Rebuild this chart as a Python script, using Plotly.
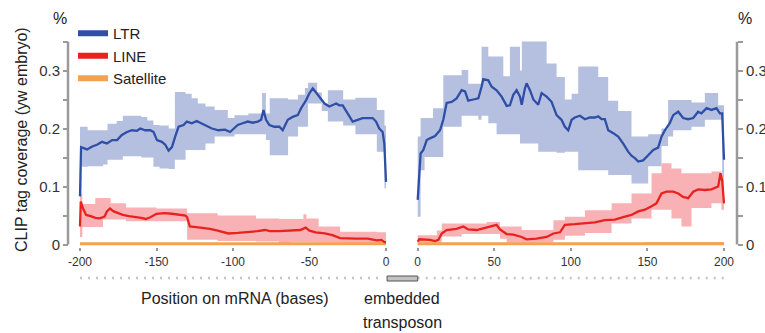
import plotly.graph_objects as go

# ---------------- data ----------------
# LTR mean, upstream side (-200..0)
ltr_left_pos = [-200, -199.3, -195.4, -192, -188.9, -185.6, -182.4, -179, -175.8, -172.6, -169.3, -166,
                -162.8, -160.6, -157.4, -154, -151.9, -149.7, -146.5, -144.3, -142.1, -139.9, -137.8,
                -135.6, -132.3, -130.2, -126.9, -123.7, -121.5, -118.2, -113.8, -109.5, -105.2, -101.9,
                -99.1, -96.9, -93.7, -90.4, -87.1, -83.8, -81.6, -80.1, -78.4, -76.2, -73.0, -69.7,
                -67.5, -64.2, -61.0, -57.7, -55.5, -52.2, -50.0, -47.9, -45.7, -43.5, -40.2, -37.0,
                -34.8, -32.6, -30.5, -28.3, -25.1, -21.8, -18.5, -15.3, -12.0, -8.7, -6.5, -4.4,
                -2.2, -1.1, 0]
ltr_left_val = [0.083, 0.168, 0.164, 0.169, 0.172, 0.177, 0.174, 0.180, 0.180, 0.189, 0.194, 0.197,
                0.196, 0.200, 0.197, 0.197, 0.194, 0.180, 0.177, 0.172, 0.162, 0.168, 0.186,
                0.203, 0.206, 0.212, 0.209, 0.213, 0.210, 0.206, 0.200, 0.197, 0.198, 0.194,
                0.200, 0.206, 0.209, 0.212, 0.210, 0.212, 0.215, 0.232, 0.215, 0.206, 0.203, 0.203,
                0.197, 0.215, 0.220, 0.223, 0.235, 0.249, 0.261, 0.269, 0.262, 0.255, 0.243, 0.238,
                0.241, 0.243, 0.240, 0.240, 0.226, 0.212, 0.215, 0.218, 0.218, 0.218, 0.212, 0.200,
                0.194, 0.174, 0.108]
ltr_left_band_pos = [-200, -199, -195, -185, -182, -176, -172, -160, -156, -152, -148, -142, -138,
                     -131, -127, -123, -118, -112, -103.4, -99, -90, -81, -78.5, -76, -64, -57.5,
                     -53, -51, -45, -42, -38, -28, -20, -6, -1, 0]
ltr_left_band_hi = [0.203, 0.203, 0.197, 0.197, 0.208, 0.213, 0.222, 0.220, 0.214, 0.206, 0.205, 0.200,
                    0.263, 0.260, 0.252, 0.243, 0.238, 0.232, 0.218, 0.223, 0.226, 0.261, 0.226,
                    0.252, 0.250, 0.258, 0.270, 0.279, 0.262, 0.243, 0.266, 0.250, 0.253, 0.232,
                    0.205, 0.205]
ltr_left_band_lo = [0.068, 0.134, 0.135, 0.138, 0.146, 0.146, 0.152, 0.150, 0.150, 0.134, 0.131, 0.130,
                    0.146, 0.163, 0.163, 0.163, 0.174, 0.186, 0.186, 0.190, 0.190, 0.190, 0.180,
                    0.154, 0.186, 0.203, 0.203, 0.243, 0.243, 0.230, 0.212, 0.205, 0.190, 0.160,
                    0.097, 0.097]

# LTR mean, downstream side (0..200)
ltr_right_pos = [0, 1.1, 1.9, 3.7, 5.9, 8.0, 11.3, 14.6, 16.7, 18.9, 22.2, 25.4, 28.7, 30.9, 33.0, 36.3,
                 39.6, 41.7, 42.8, 46.1, 48.3, 51.5, 54.8, 58.1, 60.2, 62.4, 64.6, 66.8, 67.9, 70.0,
                 71.1, 73.3, 75.5, 78.7, 80.9, 84.2, 87.4, 90.7, 93.9, 96.1, 98.3, 100.5, 102.6,
                 105.9, 109.2, 112.4, 115.7, 117.9, 120.0, 122.2, 124.4, 127.7, 130.9, 134.2, 137.4,
                 139.6, 141.8, 144.0, 147.2, 150.5, 153.8, 157.0, 159.2, 161.4, 164.6, 166.8, 170.1,
                 173.3, 176.6, 179.9, 183.1, 185.3, 188.6, 191.8, 195.1, 197.3, 198.8, 200]
ltr_right_val = [0.077, 0.128, 0.157, 0.163, 0.180, 0.183, 0.187, 0.197, 0.215, 0.244, 0.246, 0.252,
                 0.266, 0.264, 0.248, 0.250, 0.252, 0.272, 0.285, 0.283, 0.272, 0.266, 0.255, 0.239,
                 0.240, 0.258, 0.266, 0.255, 0.241, 0.269, 0.278, 0.266, 0.250, 0.241, 0.261, 0.255,
                 0.246, 0.223, 0.215, 0.203, 0.197, 0.215, 0.219, 0.222, 0.216, 0.219, 0.219, 0.221,
                 0.216, 0.216, 0.197, 0.192, 0.186, 0.174, 0.160, 0.153, 0.149, 0.143, 0.145, 0.154,
                 0.163, 0.167, 0.186, 0.197, 0.209, 0.223, 0.229, 0.218, 0.216, 0.218, 0.229, 0.226,
                 0.235, 0.232, 0.235, 0.226, 0.226, 0.146]
ltr_right_band_pos = [0, 1.9, 4.5, 10, 16.7, 28.7, 33, 39.6, 41.7, 46.1, 51.5, 55.9, 60.2, 66.8, 68,
                      73.3, 78.7, 84.2, 90.7, 96.1, 100.5, 104.8, 117.9, 124.4, 130.9, 139.6, 150.5,
                      159.2, 163.5, 166.8, 178.8, 187.5, 196.2, 198.8, 200]
ltr_right_band_hi = [0.186, 0.218, 0.218, 0.235, 0.292, 0.301, 0.277, 0.277, 0.341, 0.324, 0.324,
                     0.290, 0.341, 0.300, 0.358, 0.352, 0.352, 0.312, 0.289, 0.250, 0.260, 0.307,
                     0.289, 0.248, 0.230, 0.186, 0.190, 0.200, 0.249, 0.249, 0.245, 0.261, 0.240,
                     0.240, 0.240]
ltr_right_band_lo = [0.048, 0.128, 0.151, 0.151, 0.203, 0.222, 0.222, 0.215, 0.222, 0.209, 0.190,
                     0.190, 0.190, 0.174, 0.174, 0.174, 0.160, 0.160, 0.158, 0.160, 0.160, 0.128,
                     0.128, 0.120, 0.120, 0.105, 0.135, 0.170, 0.186, 0.197, 0.203, 0.215, 0.215,
                     0.108, 0.108]

# LINE mean
line_left_pos = [-200, -199.5, -198, -196, -193, -190, -187, -184, -182.4, -180.4, -178, -175, -172,
                 -168, -164, -160, -157, -154, -150, -145, -140, -135, -131, -130, -128.2, -124,
                 -120, -115, -110, -106, -103, -97, -92, -88, -84, -79, -76, -70, -62, -56, -52.5,
                 -50, -46, -40, -35, -30, -20, -12, -6, -3, -1, 0]
line_left_val = [0.031, 0.074, 0.062, 0.051, 0.049, 0.046, 0.045, 0.048, 0.057, 0.062, 0.057, 0.054,
                 0.051, 0.049, 0.048, 0.046, 0.044, 0.047, 0.053, 0.054, 0.053, 0.052, 0.050, 0.047,
                 0.031, 0.030, 0.029, 0.027, 0.024, 0.021, 0.019, 0.020, 0.021, 0.022, 0.023, 0.025,
                 0.023, 0.023, 0.024, 0.025, 0.029, 0.024, 0.021, 0.019, 0.016, 0.011, 0.010, 0.010,
                 0.007, 0.008, 0.004, 0.004]
line_left_band_pos = [-200, -198.5, -190, -185, -180, -170, -150, -130, -110, -85, -70, -62, -54, -52,
                      -44, -30, -6, 0]
line_left_band_hi = [0.088, 0.070, 0.080, 0.080, 0.071, 0.064, 0.062, 0.054, 0.050, 0.045, 0.044,
                     0.044, 0.052, 0.045, 0.031, 0.022, 0.021, 0.021]
line_left_band_lo = [0.013, 0.030, 0.030, 0.043, 0.043, 0.040, 0.040, 0.008, 0.006, 0.005, 0.002,
                     0.004, 0.004, 0.004, 0.003, 0.002, 0.002, 0.002]

line_right_pos = [0, 1.1, 8.0, 11.3, 13.5, 15.7, 18.9, 22.2, 25.4, 29.8, 33.0, 38.5, 45.0, 48.3, 51.5,
                  53.7, 58.1, 62.4, 67.9, 71.1, 77.6, 84.2, 88.6, 92.9, 96.1, 102.6, 109.2, 115.7,
                  122.2, 128.7, 135.3, 139.6, 144.0, 148.3, 152.7, 155.9, 159.2, 162.5, 166.8, 170.1,
                  173.3, 176.6, 179.9, 183.1, 187.5, 191.8, 196.2, 197.7, 198.8, 200]
line_right_val = [0.005, 0.009, 0.008, 0.006, 0.008, 0.019, 0.025, 0.026, 0.027, 0.031, 0.026, 0.025,
                  0.029, 0.031, 0.034, 0.026, 0.018, 0.017, 0.013, 0.009, 0.010, 0.013, 0.019, 0.021,
                  0.034, 0.035, 0.036, 0.038, 0.042, 0.043, 0.048, 0.051, 0.057, 0.060, 0.066, 0.071,
                  0.088, 0.091, 0.091, 0.088, 0.082, 0.080, 0.091, 0.095, 0.094, 0.095, 0.100, 0.123,
                  0.110, 0.071]
line_right_band_pos = [0, 1.5, 12.5, 15.7, 28.7, 45.0, 53.7, 58.1, 67.9, 88.6, 96.1, 109.2, 126.6,
                       139.6, 152.7, 159.2, 165.7, 172.2, 178.8, 191.8, 198.3, 200]
line_right_band_hi = [0.016, 0.016, 0.024, 0.036, 0.036, 0.039, 0.031, 0.031, 0.025, 0.042, 0.048,
                      0.059, 0.071, 0.088, 0.123, 0.140, 0.131, 0.123, 0.123, 0.126, 0.118, 0.118]
line_right_band_lo = [0.000, 0.003, 0.003, 0.014, 0.018, 0.018, 0.010, 0.003, 0.003, 0.008, 0.015,
                      0.020, 0.036, 0.045, 0.060, 0.060, 0.045, 0.031, 0.063, 0.071, 0.060, 0.060]

# Satellite
sat_left_pos = [-200, 0]
sat_left_val = [0.0015, 0.0015]
sat_right_pos = [0, 148, 200]
sat_right_val = [0.0015, 0.0015, 0.0015]
sat_right_band_pos = [148, 200]
sat_right_band_hi = [0.004, 0.004]
sat_right_band_lo = [0.0, 0.0]

x_ticks_left = [-200, -150, -100, -50, 0]
x_ticktext_left = ["-200", "-150", "-100", "-50", "0"]
x_ticks_right = [0, 50, 100, 150, 200]
x_ticktext_right = ["0", "50", "100", "150", "200"]
y_ticks = [0, 0.05, 0.1, 0.15, 0.2, 0.25, 0.3, 0.35]
y_ticktext = ["0", "", "0.1", "", "0.2", "", "0.3", ""]
series_names = ["LTR", "LINE", "Satellite"]

# ---------------- style ----------------
FONT = "Liberation Sans, Arial, sans-serif"
C_LTR = "#2f4fa6"
C_LTR_BAND = "#b5c0e1"
C_LINE = "#e8231f"
C_LINE_BAND = "#f8b2b5"
C_SAT = "#f5a24f"
GRAY = "#9a9a9a"
W, H = 765, 333

fig = go.Figure()


def band(xs, lo, hi, color, xa, ya):
    fig.add_trace(go.Scatter(x=xs, y=lo, mode="lines", line=dict(width=0, shape="hv"),
                             showlegend=False, hoverinfo="skip", xaxis=xa, yaxis=ya))
    fig.add_trace(go.Scatter(x=xs, y=hi, mode="lines", line=dict(width=0, shape="hv"),
                             fill="tonexty", fillcolor=color, showlegend=False,
                             hoverinfo="skip", xaxis=xa, yaxis=ya))


def mean(xs, ys, color, width, xa, ya):
    fig.add_trace(go.Scatter(x=xs, y=ys, mode="lines", line=dict(color=color, width=width),
                             showlegend=False, xaxis=xa, yaxis=ya))


band(ltr_left_band_pos, ltr_left_band_lo, ltr_left_band_hi, C_LTR_BAND, "x", "y")
band(line_left_band_pos, line_left_band_lo, line_left_band_hi, C_LINE_BAND, "x", "y")
band(ltr_right_band_pos, ltr_right_band_lo, ltr_right_band_hi, C_LTR_BAND, "x2", "y2")
band(line_right_band_pos, line_right_band_lo, line_right_band_hi, C_LINE_BAND, "x2", "y2")
band(sat_right_band_pos, sat_right_band_lo, sat_right_band_hi, C_SAT, "x2", "y2")

mean(sat_left_pos, sat_left_val, C_SAT, 3, "x", "y")
mean(sat_right_pos, sat_right_val, C_SAT, 3, "x2", "y2")
mean(line_left_pos, line_left_val, C_LINE, 2.3, "x", "y")
mean(line_right_pos, line_right_val, C_LINE, 2.3, "x2", "y2")
mean(ltr_left_pos, ltr_left_val, C_LTR, 2.3, "x", "y")
mean(ltr_right_pos, ltr_right_val, C_LTR, 2.3, "x2", "y2")

# legend entries
for name, col, grp in zip(series_names, [C_LTR, C_LINE, C_SAT], ["a", "b", "c"]):
    fig.add_trace(go.Scatter(x=[None], y=[None], mode="lines", name=name, legendgroup=grp,
                             line=dict(color=col, width=6), xaxis="x", yaxis="y"))

# ---------------- layout ----------------
ymin, ymax = -0.005, 0.35
px_per_unit = 580.0
y0_px = 244.5
ydom = [1 - (y0_px - ymin * px_per_unit) / H, 1 - (y0_px - ymax * px_per_unit) / H]

xl_px = (80.0, 386.0)   # -200, 0
xr_px = (417.7, 724.0)  # 0, 200
sl = (xl_px[1] - xl_px[0]) / 200
sr = (xr_px[1] - xr_px[0]) / 200
xdom1 = [(xl_px[0] - 3 * sl) / W, (xl_px[1] + 3 * sl) / W]
xdom2 = [(xr_px[0] - 3 * sr) / W, (xr_px[1] + 3 * sr) / W]


def x2_to_paper(v):
    return (xr_px[0] + v * sr) / W


xcommon = dict(showgrid=False, zeroline=False, showline=False, ticks="outside", ticklen=3,
               tickwidth=2, tickcolor=GRAY, tickfont=dict(size=12, color="#333", family=FONT),
               fixedrange=True, automargin=False)
ycommon = dict(showgrid=False, zeroline=False, showline=False, ticks="outside", ticklen=5,
               tickwidth=2, tickcolor=GRAY, range=[ymin, ymax], domain=ydom, tickvals=y_ticks,
               ticktext=y_ticktext, tickfont=dict(size=15, color="#333", family=FONT),
               anchor="free", automargin=False, fixedrange=True)

fig.update_layout(
    width=W, height=H, margin=dict(l=0, r=0, t=0, b=0, autoexpand=False),
    paper_bgcolor="white", plot_bgcolor="white",
    font=dict(family=FONT, color="#222"),
    xaxis=dict(domain=xdom1, range=[-203, 3], tickvals=x_ticks_left, ticktext=x_ticktext_left,
               anchor="y", **xcommon),
    xaxis2=dict(domain=xdom2, range=[-3, 203], tickvals=x_ticks_right, ticktext=x_ticktext_right,
                anchor="y2", **xcommon),
    yaxis=dict(position=68 / W, side="left", **ycommon),
    yaxis2=dict(position=737 / W, side="right", **ycommon),
    showlegend=True,
    legend=dict(x=73 / W, y=1 - 17 / H, xanchor="left", yanchor="top", bgcolor="rgba(0,0,0,0)",
                font=dict(size=15, family=FONT, color="#222"), traceorder="grouped",
                tracegroupgap=0, itemwidth=30),
)

shapes = [
    # y axis lines (0 .. 0.35)
    dict(type="line", xref="paper", yref="y", x0=68 / W, x1=68 / W, y0=0, y1=0.35,
         line=dict(color=GRAY, width=2.5)),
    dict(type="line", xref="paper", yref="y2", x0=737 / W, x1=737 / W, y0=0, y1=0.35,
         line=dict(color=GRAY, width=2.5)),
    # dotted guide lines under the axes
    dict(type="line", xref="x", yref="paper", x0=-200, x1=-2, y0=1 - 278 / H, y1=1 - 278 / H,
         line=dict(color="#c4c4c4", width=2.5, dash="2px,6px")),
    dict(type="line", xref="x2", yref="paper", x0=0, x1=200, y0=1 - 278 / H, y1=1 - 278 / H,
         line=dict(color="#c4c4c4", width=2.5, dash="2px,6px")),
    # embedded transposon box (between the two position axes)
    dict(type="rect", xref="paper", yref="paper", x0=x2_to_paper(-20), x1=x2_to_paper(0),
         y0=1 - 281 / H, y1=1 - 276 / H, fillcolor="#c2c2c2", line=dict(color="#555", width=1)),
]
fig.update_layout(shapes=shapes)

ann = dict(showarrow=False, xref="paper", yref="paper", xanchor="center", yanchor="middle",
           font=dict(size=16, family=FONT, color="#222"))
fig.add_annotation(text="CLIP tag coverage (yw embryo)", x=21 / W, y=1 - 140 / H, textangle=-90, **ann)
fig.add_annotation(text="%", x=60 / W, y=1 - 18 / H, **ann)
fig.add_annotation(text="%", x=745 / W, y=1 - 18 / H, **ann)
fig.add_annotation(text="Position on mRNA (bases)", x=235 / W, y=1 - 298 / H, **ann)
fig.add_annotation(text="embedded", x=402 / W, y=1 - 298 / H, **ann)
fig.add_annotation(text="transposon", x=402 / W, y=1 - 322 / H, **ann)

fig.write_html("out.html", config={"displayModeBar": False},
               post_script="document.body.style.margin='0';")
